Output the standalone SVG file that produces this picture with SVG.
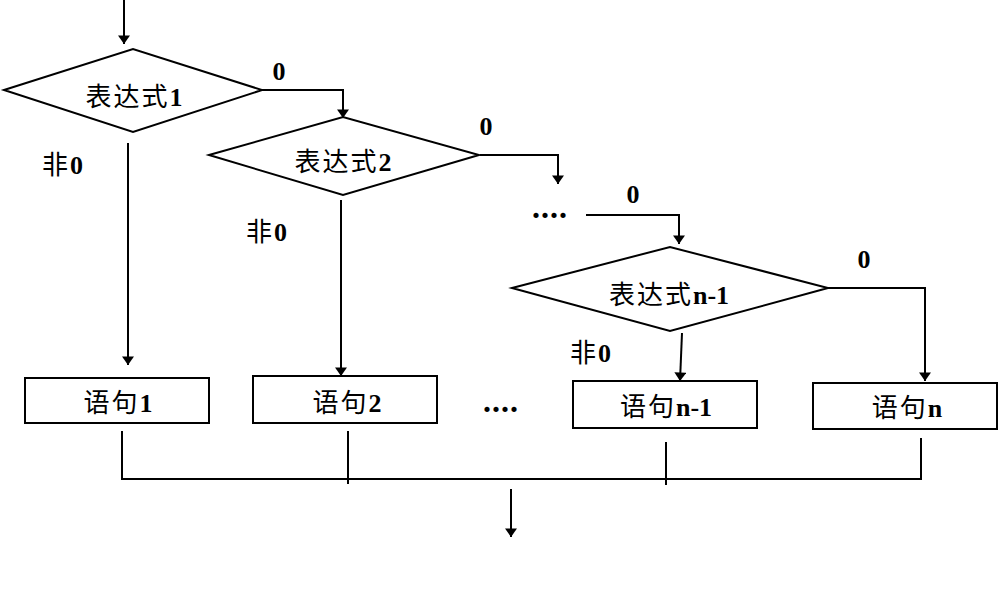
<svg xmlns="http://www.w3.org/2000/svg" width="998" height="591" viewBox="0 0 998 591">
<style>
.shape{fill:#fff;stroke:#000;stroke-width:2}
.ln{fill:none;stroke:#000;stroke-width:2}
.arr{marker-end:url(#ah)}
text{font-family:"Liberation Serif","Noto Sans CJK SC",serif;font-size:26px;fill:#000}
.cjk{font-family:"Noto Sans CJK SC","Liberation Serif",sans-serif;font-weight:400;letter-spacing:2px}
.b{font-weight:bold}
.dots{font-weight:bold;font-size:32px;letter-spacing:1px}
</style>
<defs>
<marker id="ah" viewBox="0 0 10 14" refX="10" refY="7" markerWidth="15" markerHeight="12" markerUnits="userSpaceOnUse" orient="auto">
<path d="M0,0 L10,7 L0,14 z" fill="#000"/>
</marker>
</defs>
<rect width="998" height="591" fill="#fff"/>
<g id="connectors">
<line class="ln arr" x1="124" y1="0" x2="124" y2="44"/>
<polyline class="ln arr" points="262,90 343,90 343,118"/>
<polyline class="ln arr" points="480,155 558,155 558,184"/>
<polyline class="ln arr" points="586,215 679,215 679,244"/>
<polyline class="ln arr" points="828,288 925,288 925,381"/>
<line class="ln arr" x1="128" y1="143" x2="128" y2="365"/>
<line class="ln arr" x1="341" y1="200" x2="341" y2="376"/>
<line class="ln arr" x1="682" y1="333" x2="680" y2="381"/>
<line class="ln" x1="122" y1="431" x2="122" y2="480"/>
<line class="ln" x1="348" y1="431" x2="348" y2="484"/>
<line class="ln" x1="666" y1="442" x2="666" y2="485"/>
<line class="ln" x1="921" y1="438" x2="921" y2="480"/>
<line class="ln" x1="121" y1="479" x2="922" y2="479"/>
<line class="ln arr" x1="511" y1="489" x2="511" y2="537"/>
</g>
<g id="labels">
<text x="279" y="80" class="b" text-anchor="middle">0</text>
<text x="486" y="135" class="b" text-anchor="middle">0</text>
<text x="633" y="203" class="b" text-anchor="middle">0</text>
<text x="864" y="268" class="b" text-anchor="middle">0</text>
<text x="42" y="174"><tspan class="cjk">非</tspan><tspan class="b">0</tspan></text>
<text x="246" y="241"><tspan class="cjk">非</tspan><tspan class="b">0</tspan></text>
<text x="570" y="362"><tspan class="cjk">非</tspan><tspan class="b">0</tspan></text>
<text x="532" y="218" class="dots">....</text>
<text x="483" y="412" class="dots">....</text>
</g>
<g id="d1">
<polygon class="shape" points="4,90 133,49 262,90 133,132"/>
<text x="134" y="106" text-anchor="middle"><tspan class="cjk">表达式</tspan><tspan class="b">1</tspan></text>
</g>
<g id="d2">
<polygon class="shape" points="209,155 343,117 479,155 343,195"/>
<text x="343" y="171" text-anchor="middle"><tspan class="cjk">表达式</tspan><tspan class="b">2</tspan></text>
</g>
<g id="dn1">
<polygon class="shape" points="512,288 670,247 828,288 670,331"/>
<text x="669" y="304" text-anchor="middle"><tspan class="cjk">表达式</tspan><tspan class="b">n-1</tspan></text>
</g>
<g id="s1">
<rect class="shape" x="25" y="378" width="184" height="45"/>
<text x="118" y="412" text-anchor="middle"><tspan class="cjk">语句</tspan><tspan class="b">1</tspan></text>
</g>
<g id="s2">
<rect class="shape" x="253" y="376" width="184" height="47"/>
<text x="347" y="412" text-anchor="middle"><tspan class="cjk">语句</tspan><tspan class="b">2</tspan></text>
</g>
<g id="sn1">
<rect class="shape" x="573" y="381" width="184" height="47"/>
<text x="666" y="416" text-anchor="middle"><tspan class="cjk">语句</tspan><tspan class="b">n-1</tspan></text>
</g>
<g id="sn">
<rect class="shape" x="813" y="383" width="184" height="46"/>
<text x="907" y="417" text-anchor="middle"><tspan class="cjk">语句</tspan><tspan class="b">n</tspan></text>
</g>
</svg>
